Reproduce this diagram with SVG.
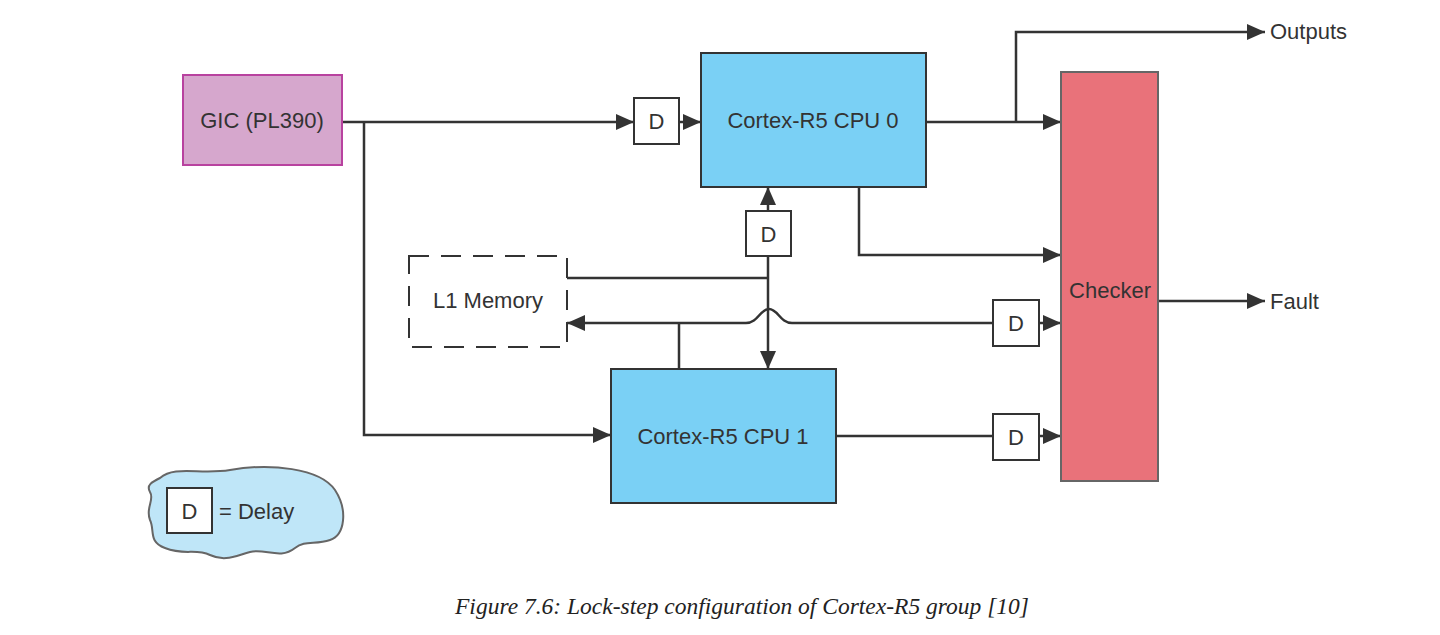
<svg xmlns="http://www.w3.org/2000/svg" width="1440" height="635" viewBox="0 0 1440 635">
<style>
.lbl{font-family:"Liberation Sans",Arial,sans-serif;font-size:22px;fill:#333;}
.ln{fill:none;stroke:#333;stroke-width:2.5;}
.dbox{fill:#fff;stroke:#333;stroke-width:2;}
.cap{font-family:"Liberation Serif","Times New Roman",serif;font-style:italic;font-size:23.5px;fill:#222;}
</style>
<defs>
<marker id="arr" markerUnits="userSpaceOnUse" markerWidth="18" markerHeight="16" viewBox="0 0 18 16" refX="18" refY="8" orient="auto">
<path d="M0,0 L18,8 L0,16 z" fill="#333"/>
</marker>
</defs>
<rect width="1440" height="635" fill="#fff"/>
<g id="connectors">
<path class="ln" d="M342,122 H634" marker-end="url(#arr)"/>
<path class="ln" d="M364,122 V435 H611" marker-end="url(#arr)"/>
<path class="ln" d="M679,122 H701" marker-end="url(#arr)"/>
<path class="ln" d="M926,122 H1061" marker-end="url(#arr)"/>
<path class="ln" d="M1016,122 V32 H1265" marker-end="url(#arr)"/>
<path class="ln" d="M859,187 V255 H1061" marker-end="url(#arr)"/>
<path class="ln" d="M768,211 V187" marker-end="url(#arr)"/>
<path class="ln" d="M768,256 V369" marker-end="url(#arr)"/>
<path class="ln" d="M567,278 H768"/>
<path class="ln" d="M993,323 H792 C780,323 778,309 769,309 C760,309 758,323 746,323 H567" marker-end="url(#arr)"/>
<path class="ln" d="M679,323 V369"/>
<path class="ln" d="M1039,323 H1061" marker-end="url(#arr)"/>
<path class="ln" d="M836,436 H993"/>
<path class="ln" d="M1039,436 H1061" marker-end="url(#arr)"/>
<path class="ln" d="M1158,301 H1265" marker-end="url(#arr)"/>
</g>
<g id="gic">
<rect x="183" y="75" width="159" height="90" fill="#d6a7cd" stroke="#b8429f" stroke-width="2"/>
<text class="lbl" x="262" y="128" text-anchor="middle">GIC (PL390)</text>
</g>
<g id="cpu0">
<rect x="701" y="53" width="225" height="134" fill="#7ad0f5" stroke="#333" stroke-width="2"/>
<text class="lbl" x="813" y="128" text-anchor="middle">Cortex-R5 CPU 0</text>
</g>
<g id="cpu1">
<rect x="611" y="369" width="225" height="134" fill="#7ad0f5" stroke="#333" stroke-width="2"/>
<text class="lbl" x="723" y="444" text-anchor="middle">Cortex-R5 CPU 1</text>
</g>
<g id="checker">
<rect x="1061" y="72" width="97" height="409" fill="#e9727a" stroke="#666" stroke-width="2"/>
<text class="lbl" x="1110" y="298" text-anchor="middle">Checker</text>
</g>
<g id="l1mem">
<rect x="409" y="256" width="158" height="91" fill="none" stroke="#333" stroke-width="2" stroke-dasharray="20,12"/>
<text class="lbl" x="488" y="308" text-anchor="middle">L1 Memory</text>
</g>
<g id="d1">
<rect class="dbox" x="634" y="98" width="45" height="46"/>
<text class="lbl" x="656.5" y="129" text-anchor="middle">D</text>
</g>
<g id="d2">
<rect class="dbox" x="746" y="211" width="45" height="45"/>
<text class="lbl" x="768.5" y="242" text-anchor="middle">D</text>
</g>
<g id="d3">
<rect class="dbox" x="993" y="300" width="46" height="46"/>
<text class="lbl" x="1016" y="331" text-anchor="middle">D</text>
</g>
<g id="d4">
<rect class="dbox" x="993" y="414" width="46" height="46"/>
<text class="lbl" x="1016" y="445" text-anchor="middle">D</text>
</g>
<g id="outputs">
<text class="lbl" x="1270" y="39">Outputs</text>
</g>
<g id="fault">
<text class="lbl" x="1270" y="309">Fault</text>
</g>
<g id="legend">
<path d="M160,478 C175,465 200,475 230,470 C270,463 320,468 335,490 C348,510 345,535 330,540 C315,545 305,540 295,548 C280,560 265,548 250,552 C235,556 225,562 210,555 C195,548 185,556 165,548 C148,542 155,530 150,520 C145,508 155,500 150,492 C146,485 152,482 160,478 Z" fill="#bfe6f8" stroke="#666" stroke-width="2"/>
<rect class="dbox" x="167" y="488" width="45" height="45"/>
<text class="lbl" x="189.5" y="519" text-anchor="middle">D</text>
<text class="lbl" x="219" y="519">= Delay</text>
</g>
<text class="cap" x="742" y="614" text-anchor="middle">Figure 7.6: Lock-step configuration of Cortex-R5 group [10]</text>
</svg>
